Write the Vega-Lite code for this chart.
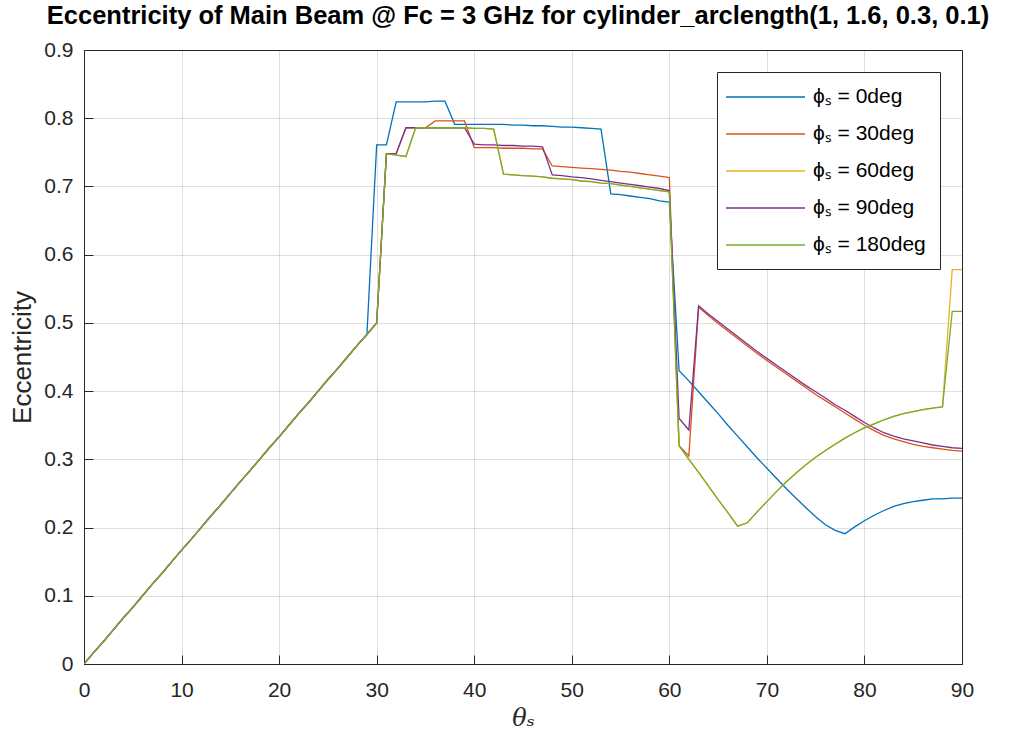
{
 "$schema": "https://vega.github.io/schema/vega-lite/v6.json",
 "width": 878, "height": 614,
 "autosize": {"type": "none"},
 "padding": {"left": 84, "top": 50, "right": 57, "bottom": 85},
 "background": "white",
 "title": {"text": "Eccentricity of Main Beam @ Fc = 3 GHz for cylinder_arclength(1, 1.6, 0.3, 0.1)", "font": "Liberation Sans", "fontSize": 25.5, "fontWeight": "bold", "color": "#000000", "anchor": "middle", "offset": 10, "dx": -5},
 "config": {
  "view": {"stroke": "#262626", "strokeWidth": 1},
  "axis": {"domainColor": "#262626", "tickColor": "#262626", "labelColor": "#262626", "titleColor": "#262626", "labelFont": "Liberation Sans", "titleFont": "Liberation Sans", "labelFontSize": 21, "titleFontSize": 26, "titleFontWeight": "normal", "gridColor": "#262626", "gridOpacity": 0.15, "tickSize": -9, "labelFlush": false}
 },
 "data": {"values": [
  {"t":0,"0deg":0,"30deg":0,"60deg":0,"90deg":0,"180deg":0},
  {"t":1,"0deg":0.017,"30deg":0.017,"60deg":0.017,"90deg":0.017,"180deg":0.017},
  {"t":2,"0deg":0.033,"30deg":0.033,"60deg":0.033,"90deg":0.033,"180deg":0.033},
  {"t":3,"0deg":0.05,"30deg":0.05,"60deg":0.05,"90deg":0.05,"180deg":0.05},
  {"t":4,"0deg":0.067,"30deg":0.067,"60deg":0.067,"90deg":0.067,"180deg":0.067},
  {"t":5,"0deg":0.083,"30deg":0.083,"60deg":0.083,"90deg":0.083,"180deg":0.083},
  {"t":6,"0deg":0.1,"30deg":0.1,"60deg":0.1,"90deg":0.1,"180deg":0.1},
  {"t":7,"0deg":0.117,"30deg":0.117,"60deg":0.117,"90deg":0.117,"180deg":0.117},
  {"t":8,"0deg":0.133,"30deg":0.133,"60deg":0.133,"90deg":0.133,"180deg":0.133},
  {"t":9,"0deg":0.15,"30deg":0.15,"60deg":0.15,"90deg":0.15,"180deg":0.15},
  {"t":10,"0deg":0.167,"30deg":0.167,"60deg":0.167,"90deg":0.167,"180deg":0.167},
  {"t":11,"0deg":0.183,"30deg":0.183,"60deg":0.183,"90deg":0.183,"180deg":0.183},
  {"t":12,"0deg":0.2,"30deg":0.2,"60deg":0.2,"90deg":0.2,"180deg":0.2},
  {"t":13,"0deg":0.217,"30deg":0.217,"60deg":0.217,"90deg":0.217,"180deg":0.217},
  {"t":14,"0deg":0.233,"30deg":0.233,"60deg":0.233,"90deg":0.233,"180deg":0.233},
  {"t":15,"0deg":0.25,"30deg":0.25,"60deg":0.25,"90deg":0.25,"180deg":0.25},
  {"t":16,"0deg":0.267,"30deg":0.267,"60deg":0.267,"90deg":0.267,"180deg":0.267},
  {"t":17,"0deg":0.283,"30deg":0.283,"60deg":0.283,"90deg":0.283,"180deg":0.283},
  {"t":18,"0deg":0.3,"30deg":0.3,"60deg":0.3,"90deg":0.3,"180deg":0.3},
  {"t":19,"0deg":0.317,"30deg":0.317,"60deg":0.317,"90deg":0.317,"180deg":0.317},
  {"t":20,"0deg":0.333,"30deg":0.333,"60deg":0.333,"90deg":0.333,"180deg":0.333},
  {"t":21,"0deg":0.35,"30deg":0.35,"60deg":0.35,"90deg":0.35,"180deg":0.35},
  {"t":22,"0deg":0.367,"30deg":0.367,"60deg":0.367,"90deg":0.367,"180deg":0.367},
  {"t":23,"0deg":0.383,"30deg":0.383,"60deg":0.383,"90deg":0.383,"180deg":0.383},
  {"t":24,"0deg":0.4,"30deg":0.4,"60deg":0.4,"90deg":0.4,"180deg":0.4},
  {"t":25,"0deg":0.417,"30deg":0.417,"60deg":0.417,"90deg":0.417,"180deg":0.417},
  {"t":26,"0deg":0.433,"30deg":0.433,"60deg":0.433,"90deg":0.433,"180deg":0.433},
  {"t":27,"0deg":0.45,"30deg":0.45,"60deg":0.45,"90deg":0.45,"180deg":0.45},
  {"t":28,"0deg":0.467,"30deg":0.467,"60deg":0.467,"90deg":0.467,"180deg":0.467},
  {"t":29,"0deg":0.483,"30deg":0.483,"60deg":0.483,"90deg":0.483,"180deg":0.483},
  {"t":30,"0deg":0.761,"30deg":0.5,"60deg":0.5,"90deg":0.5,"180deg":0.5},
  {"t":31,"0deg":0.761,"30deg":0.748,"60deg":0.748,"90deg":0.748,"180deg":0.748},
  {"t":32,"0deg":0.824,"30deg":0.748,"60deg":0.746,"90deg":0.748,"180deg":0.746},
  {"t":33,"0deg":0.824,"30deg":0.786,"60deg":0.744,"90deg":0.786,"180deg":0.744},
  {"t":34,"0deg":0.824,"30deg":0.786,"60deg":0.786,"90deg":0.786,"180deg":0.786},
  {"t":35,"0deg":0.824,"30deg":0.786,"60deg":0.786,"90deg":0.786,"180deg":0.786},
  {"t":36,"0deg":0.825,"30deg":0.796,"60deg":0.786,"90deg":0.786,"180deg":0.786},
  {"t":37,"0deg":0.825,"30deg":0.796,"60deg":0.786,"90deg":0.786,"180deg":0.786},
  {"t":38,"0deg":0.791,"30deg":0.796,"60deg":0.786,"90deg":0.786,"180deg":0.786},
  {"t":39,"0deg":0.791,"30deg":0.796,"60deg":0.786,"90deg":0.786,"180deg":0.786},
  {"t":40,"0deg":0.791,"30deg":0.757,"60deg":0.785,"90deg":0.762,"180deg":0.785},
  {"t":41,"0deg":0.791,"30deg":0.757,"60deg":0.785,"90deg":0.761,"180deg":0.785},
  {"t":42,"0deg":0.791,"30deg":0.757,"60deg":0.784,"90deg":0.761,"180deg":0.784},
  {"t":43,"0deg":0.791,"30deg":0.756,"60deg":0.718,"90deg":0.760,"180deg":0.718},
  {"t":44,"0deg":0.790,"30deg":0.756,"60deg":0.717,"90deg":0.760,"180deg":0.717},
  {"t":45,"0deg":0.790,"30deg":0.756,"60deg":0.716,"90deg":0.759,"180deg":0.716},
  {"t":46,"0deg":0.789,"30deg":0.755,"60deg":0.715,"90deg":0.759,"180deg":0.715},
  {"t":47,"0deg":0.789,"30deg":0.755,"60deg":0.714,"90deg":0.758,"180deg":0.714},
  {"t":48,"0deg":0.788,"30deg":0.730,"60deg":0.712,"90deg":0.717,"180deg":0.712},
  {"t":49,"0deg":0.787,"30deg":0.729,"60deg":0.711,"90deg":0.716,"180deg":0.711},
  {"t":50,"0deg":0.787,"30deg":0.728,"60deg":0.710,"90deg":0.714,"180deg":0.710},
  {"t":51,"0deg":0.786,"30deg":0.727,"60deg":0.708,"90deg":0.713,"180deg":0.708},
  {"t":52,"0deg":0.785,"30deg":0.726,"60deg":0.707,"90deg":0.711,"180deg":0.707},
  {"t":53,"0deg":0.784,"30deg":0.725,"60deg":0.705,"90deg":0.709,"180deg":0.705},
  {"t":54,"0deg":0.689,"30deg":0.724,"60deg":0.704,"90deg":0.707,"180deg":0.704},
  {"t":55,"0deg":0.688,"30deg":0.722,"60deg":0.702,"90deg":0.705,"180deg":0.702},
  {"t":56,"0deg":0.686,"30deg":0.721,"60deg":0.700,"90deg":0.703,"180deg":0.700},
  {"t":57,"0deg":0.684,"30deg":0.719,"60deg":0.698,"90deg":0.701,"180deg":0.698},
  {"t":58,"0deg":0.682,"30deg":0.717,"60deg":0.696,"90deg":0.699,"180deg":0.696},
  {"t":59,"0deg":0.679,"30deg":0.715,"60deg":0.694,"90deg":0.697,"180deg":0.694},
  {"t":60,"0deg":0.677,"30deg":0.713,"60deg":0.692,"90deg":0.694,"180deg":0.692},
  {"t":61,"0deg":0.430,"30deg":0.320,"60deg":0.320,"90deg":0.360,"180deg":0.320},
  {"t":62,"0deg":0.415,"30deg":0.305,"60deg":0.300,"90deg":0.343,"180deg":0.300},
  {"t":63,"0deg":0.399,"30deg":0.523,"60deg":0.281,"90deg":0.525,"180deg":0.281},
  {"t":64,"0deg":0.383,"30deg":0.511,"60deg":0.261,"90deg":0.513,"180deg":0.261},
  {"t":65,"0deg":0.367,"30deg":0.499,"60deg":0.241,"90deg":0.502,"180deg":0.241},
  {"t":66,"0deg":0.350,"30deg":0.488,"60deg":0.222,"90deg":0.491,"180deg":0.222},
  {"t":67,"0deg":0.334,"30deg":0.477,"60deg":0.202,"90deg":0.480,"180deg":0.202},
  {"t":68,"0deg":0.318,"30deg":0.466,"60deg":0.207,"90deg":0.469,"180deg":0.207},
  {"t":69,"0deg":0.302,"30deg":0.455,"60deg":0.223,"90deg":0.458,"180deg":0.223},
  {"t":70,"0deg":0.287,"30deg":0.445,"60deg":0.238,"90deg":0.448,"180deg":0.238},
  {"t":71,"0deg":0.272,"30deg":0.435,"60deg":0.253,"90deg":0.438,"180deg":0.253},
  {"t":72,"0deg":0.257,"30deg":0.425,"60deg":0.267,"90deg":0.428,"180deg":0.267},
  {"t":73,"0deg":0.243,"30deg":0.415,"60deg":0.280,"90deg":0.418,"180deg":0.280},
  {"t":74,"0deg":0.229,"30deg":0.405,"60deg":0.292,"90deg":0.408,"180deg":0.292},
  {"t":75,"0deg":0.216,"30deg":0.395,"60deg":0.303,"90deg":0.399,"180deg":0.303},
  {"t":76,"0deg":0.204,"30deg":0.386,"60deg":0.313,"90deg":0.390,"180deg":0.313},
  {"t":77,"0deg":0.196,"30deg":0.377,"60deg":0.322,"90deg":0.380,"180deg":0.322},
  {"t":78,"0deg":0.191,"30deg":0.368,"60deg":0.331,"90deg":0.372,"180deg":0.331},
  {"t":79,"0deg":0.201,"30deg":0.359,"60deg":0.339,"90deg":0.363,"180deg":0.339},
  {"t":80,"0deg":0.210,"30deg":0.350,"60deg":0.346,"90deg":0.354,"180deg":0.346},
  {"t":81,"0deg":0.218,"30deg":0.342,"60deg":0.352,"90deg":0.346,"180deg":0.352},
  {"t":82,"0deg":0.225,"30deg":0.335,"60deg":0.358,"90deg":0.339,"180deg":0.358},
  {"t":83,"0deg":0.231,"30deg":0.330,"60deg":0.363,"90deg":0.334,"180deg":0.363},
  {"t":84,"0deg":0.235,"30deg":0.326,"60deg":0.367,"90deg":0.330,"180deg":0.367},
  {"t":85,"0deg":0.238,"30deg":0.322,"60deg":0.370,"90deg":0.327,"180deg":0.370},
  {"t":86,"0deg":0.240,"30deg":0.319,"60deg":0.373,"90deg":0.324,"180deg":0.373},
  {"t":87,"0deg":0.242,"30deg":0.317,"60deg":0.375,"90deg":0.321,"180deg":0.375},
  {"t":88,"0deg":0.242,"30deg":0.315,"60deg":0.377,"90deg":0.319,"180deg":0.377},
  {"t":89,"0deg":0.243,"30deg":0.313,"60deg":0.578,"90deg":0.317,"180deg":0.517},
  {"t":90,"0deg":0.243,"30deg":0.312,"60deg":0.578,"90deg":0.316,"180deg":0.517}
 ]},
 "transform": [{"fold": ["0deg", "30deg", "60deg", "90deg", "180deg"], "as": ["series", "value"]}],
 "mark": {"type": "line", "strokeWidth": 1.3, "clip": true},
 "encoding": {
  "x": {"field": "t", "type": "quantitative", "scale": {"domain": [0, 90], "nice": false},
        "axis": {"values": [0, 10, 20, 30, 40, 50, 60, 70, 80, 90], "title": "θₛ", "titleFont": "DejaVu Serif", "titleFontStyle": "italic", "titleFontSize": 24, "titlePadding": 6, "labelPadding": 24}},
  "y": {"field": "value", "type": "quantitative", "scale": {"domain": [0, 0.9], "nice": false},
        "axis": {"values": [0, 0.1, 0.2, 0.3, 0.4, 0.5, 0.6, 0.7, 0.8, 0.9], "format": ".1~f", "title": "Eccentricity", "titlePadding": 8, "labelPadding": 20}},
  "color": {"field": "series", "type": "nominal", "sort": ["0deg", "30deg", "60deg", "90deg", "180deg"],
   "scale": {"domain": ["0deg", "30deg", "60deg", "90deg", "180deg"], "range": ["#0072BD", "#D95319", "#EDB120", "#7E2F8E", "#77AC30"]},
   "legend": {"title": null, "orient": "top-right", "offset": 22, "fillColor": "white", "strokeColor": "#262626", "padding": 14,
     "symbolType": "M-3.95,0H3.95", "symbolSize": 400, "symbolOffset": 23.5, "symbolStrokeWidth": 1.3, "symbolFillColor": "transparent", "labelFont": "Liberation Sans", "labelFontSize": 21, "labelColor": "#000000",
     "labelExpr": "'ϕₛ = ' + datum.label", "rowPadding": 16, "labelOffset": 36.5}}
 }
}
